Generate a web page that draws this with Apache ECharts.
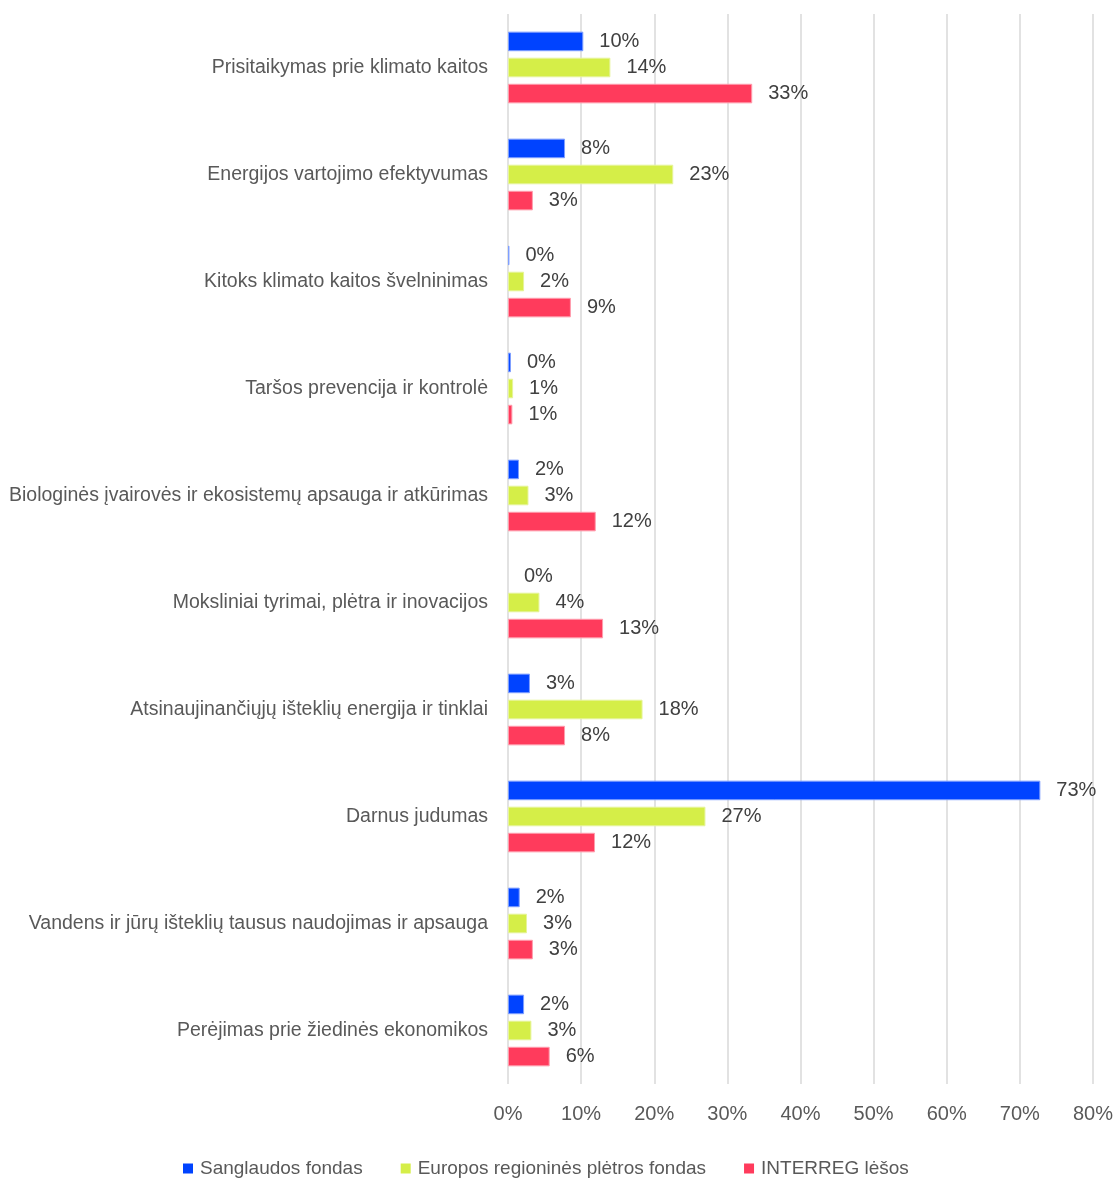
<!DOCTYPE html>
<html>
<head>
<meta charset="utf-8">
<script src="https://cdn.jsdelivr.net/npm/echarts@6/dist/echarts.min.js"></script>
<style>
  html, body { margin: 0; padding: 0; background: #fff; }
  #chart { width: 1120px; height: 1178px; }
</style>
</head>
<body>
<div id="chart"></div>
<script>
// Climate-related investment areas, share of each fund (%)
const categories = [
  'Prisitaikymas prie klimato kaitos',
  'Energijos vartojimo efektyvumas',
  'Kitoks klimato kaitos švelninimas',
  'Taršos prevencija ir kontrolė',
  'Biologinės įvairovės ir ekosistemų apsauga ir atkūrimas',
  'Moksliniai tyrimai, plėtra ir inovacijos',
  'Atsinaujinančiųjų išteklių energija ir tinklai',
  'Darnus judumas',
  'Vandens ir jūrų išteklių tausus naudojimas ir apsauga',
  'Perėjimas prie žiedinės ekonomikos'
];
const seriesNames = ['Sanglaudos fondas', 'Europos regioninės plėtros fondas', 'INTERREG lėšos'];
const sanglaudos = [10.3, 7.8, 0.2, 0.4, 1.5, 0, 3.0, 72.8, 1.6, 2.2];
const erpf       = [14.0, 22.6, 2.2, 0.7, 2.8, 4.3, 18.4, 27.0, 2.6, 3.2];
const interreg   = [33.4, 3.4, 8.6, 0.6, 12.0, 13.0, 7.8, 11.9, 3.4, 5.7];
const xTicks = { min: 0, max: 80, interval: 10 };

const colors = ['#0043FF', '#D5EE48', '#FF3B5C'];
const borders = ['#7F9FFF', '#E6F49A', '#FF9DAD'];
const FONT = '"Liberation Sans", Arial, sans-serif';

function barSeries(name, data, i) {
  return {
    name: name,
    type: 'bar',
    // zero-valued bars get no outline so nothing is drawn for them
    data: data.map(v => v === 0 ? { value: v, itemStyle: { borderWidth: 0 } } : v),
    barWidth: 19.6,
    barGap: '33%',
    itemStyle: { color: colors[i], borderColor: borders[i], borderWidth: 1 },
    label: {
      show: true,
      position: 'right',
      distance: 16,
      color: '#404040',
      fontSize: 20,
      fontFamily: FONT,
      formatter: p => Math.round(p.value) + '%'
    },
    animation: false
  };
}

const chart = echarts.init(document.getElementById('chart'), null, { renderer: 'canvas' });
chart.setOption({
  animation: false,
  textStyle: { fontFamily: FONT },
  grid: { left: 508, right: 27, top: 14, bottom: 94, containLabel: false, outerBoundsMode: 'none' },
  legend: {
    data: seriesNames.map((n, i) => ({ name: n, itemStyle: { color: colors[i], borderWidth: 0 } })),
    left: 178,
    top: 1154,
    icon: 'rect',
    itemWidth: 10,
    itemHeight: 10,
    itemGap: 38,
    textStyle: { color: '#595959', fontSize: 19, fontFamily: FONT, padding: [0, 0, 0, 2] }
  },
  xAxis: {
    type: 'value',
    min: xTicks.min,
    max: xTicks.max,
    interval: xTicks.interval,
    axisLine: { show: false },
    axisTick: { show: false },
    splitLine: { show: true, lineStyle: { color: '#d9d9d9', width: 1.5 } },
    axisLabel: { color: '#595959', fontSize: 20, fontFamily: FONT, margin: 20, formatter: '{value}%' }
  },
  yAxis: {
    type: 'category',
    inverse: true,
    data: categories,
    axisLine: { show: false },
    axisTick: { show: false },
    axisLabel: { color: '#595959', fontSize: 19.5, fontFamily: FONT, margin: 20 }
  },
  series: [
    barSeries(seriesNames[0], sanglaudos, 0),
    barSeries(seriesNames[1], erpf, 1),
    barSeries(seriesNames[2], interreg, 2)
  ]
});
</script>
</body>
</html>
